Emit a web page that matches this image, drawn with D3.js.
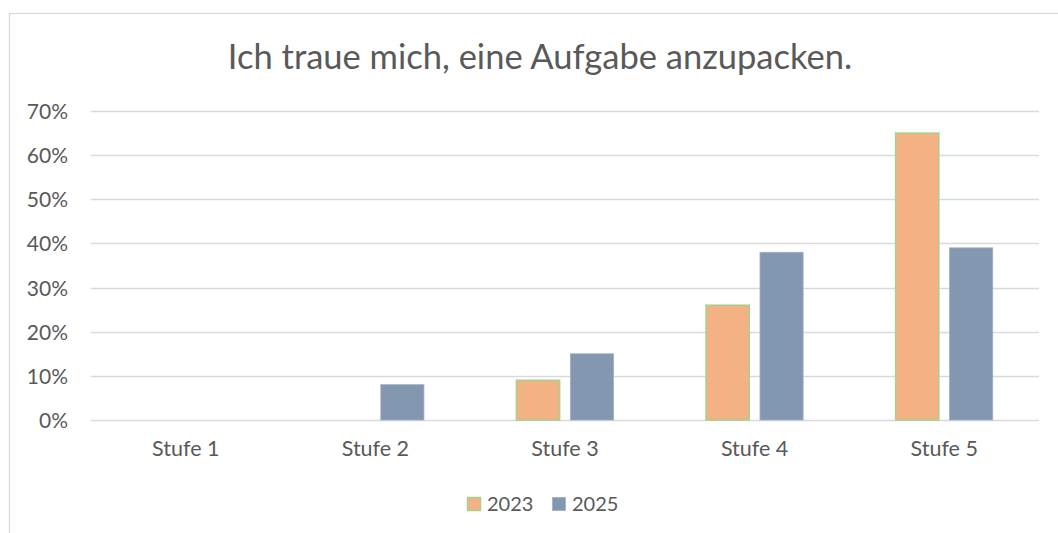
<!DOCTYPE html>
<html>
<head>
<meta charset="utf-8">
<script src="https://cdn.jsdelivr.net/npm/d3@7"></script>
<style>
  html, body { margin: 0; padding: 0; background: #fff; }
  svg { display: block; font-family: Lato, "Open Sans", sans-serif; }
</style>
</head>
<body>
<svg id="chart" width="1058" height="533"></svg>
<script>
// chart values
var categories = ["Stufe 1", "Stufe 2", "Stufe 3", "Stufe 4", "Stufe 5"];
var seriesNames = ["2023", "2025"];
var values2023 = [0, 0, 0.09, 0.26, 0.65];
var values2025 = [0, 0.08, 0.15, 0.38, 0.39];
var yTicks = [0, 0.1, 0.2, 0.3, 0.4, 0.5, 0.6, 0.7];
var title = "Ich traue mich, eine Aufgabe anzupacken.";

var fills = { "2023": "#F4B183", "2025": "#8497B0" };
var strokes = { "2023": "#A9D18E", "2025": "#9FAFC4" };
var textColor = "#595959";

var svg = d3.select("#chart");

// outer chart border (runs off the right and bottom edge)
svg.append("rect")
	.attr("x", 9.5).attr("y", 13.5)
	.attr("width", 1100).attr("height", 600)
	.attr("fill", "none")
	.attr("stroke", "#D9D9D9")
	.attr("stroke-width", 1.3);

var plot = { left: 91, right: 1039, top: 111, bottom: 420 };

var y = d3.scaleLinear()
	.domain([0, 0.7])
	.range([plot.bottom, plot.top]);

var x0 = d3.scaleBand()
	.domain(categories)
	.range([plot.left, plot.right])
	.paddingInner(0.488)
	.paddingOuter(0.244);

var x1 = d3.scaleBand()
	.domain(seriesNames)
	.range([0, x0.bandwidth()])
	.paddingInner(0.2);

// title
svg.append("text")
	.attr("x", 540).attr("y", 69)
	.attr("text-anchor", "middle")
	.attr("fill", textColor)
	.style("font-size", "34.5px")
	.text(title);

// gridlines
svg.append("g")
	.selectAll("line")
	.data(yTicks)
	.enter()
	.append("line")
	.attr("x1", plot.left).attr("x2", plot.right)
	.attr("y1", function(d){ return Math.round(y(d)) + 0.5; })
	.attr("y2", function(d){ return Math.round(y(d)) + 0.5; })
	.attr("stroke", "#D9D9D9")
	.attr("stroke-width", 1.5);

// y axis labels
var yAxis = d3.axisLeft(y)
	.tickValues(yTicks)
	.tickFormat(d3.format(".0%"))
	.tickSize(0)
	.tickPadding(0);

var yg = svg.append("g")
	.attr("transform", "translate(68,0)")
	.call(yAxis);
yg.select(".domain").remove();
yg.selectAll("text")
	.attr("fill", textColor)
	.attr("dy", "0.36em")
	.style("font-size", "21px")
	.style("font-family", "Lato, sans-serif");

// x axis labels
var xAxis = d3.axisBottom(x0).tickSize(0).tickPadding(0);
var xg = svg.append("g")
	.attr("transform", "translate(0,441)")
	.call(xAxis);
xg.select(".domain").remove();
xg.selectAll("text")
	.attr("fill", textColor)
	.attr("dy", "0.72em")
	.style("font-size", "21.5px")
	.style("font-family", "Lato, sans-serif");

// bars
var rows = categories.map(function(c, i){
	return [
		{ cat: c, series: "2023", value: values2023[i] },
		{ cat: c, series: "2025", value: values2025[i] }
	];
});

svg.append("g")
	.selectAll("g")
	.data(rows)
	.enter()
	.append("g")
	.attr("transform", function(d){ return "translate(" + x0(d[0].cat) + ",0)"; })
	.selectAll("rect")
	.data(function(d){ return d.filter(function(b){ return b.value > 0; }); })
	.enter()
	.append("rect")
	.attr("x", function(d){ return x1(d.series); })
	.attr("y", function(d){ return y(d.value); })
	.attr("width", x1.bandwidth())
	.attr("height", function(d){ return y(0) - y(d.value); })
	.attr("fill", function(d){ return fills[d.series]; })
	.attr("stroke", function(d){ return strokes[d.series]; })
	.attr("stroke-width", function(d){ return d.series === "2023" ? 1.6 : 0.8; });

// legend
var legendItems = [
	{ name: "2023", x: 467 },
	{ name: "2025", x: 552 }
];
var lg = svg.append("g")
	.selectAll("g")
	.data(legendItems)
	.enter()
	.append("g")
	.attr("transform", function(d){ return "translate(" + d.x + ",497)"; });

lg.append("rect")
	.attr("x", 0.5).attr("y", 0.5)
	.attr("width", 13).attr("height", 13)
	.attr("fill", function(d){ return fills[d.name]; })
	.attr("stroke", function(d){ return strokes[d.name]; })
	.attr("stroke-width", function(d){ return d.name === "2023" ? 1.5 : 0.8; });

lg.append("text")
	.attr("x", 20).attr("y", 14)
	.attr("fill", textColor)
	.style("font-size", "20px")
	.text(function(d){ return d.name; });
</script>
</body>
</html>
